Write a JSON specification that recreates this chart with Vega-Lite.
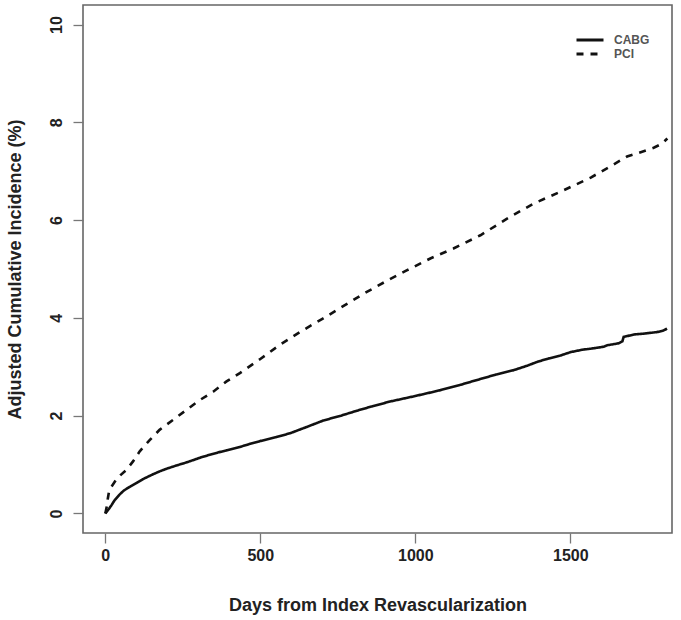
{
  "$schema": "https://vega.github.io/schema/vega-lite/v6.json",
  "width": 589,
  "height": 528,
  "autosize": "none",
  "padding": {"left": 83, "top": 5, "right": 9, "bottom": 87},
  "background": "white",
  "config": {
    "view": {"stroke": "#666666", "strokeWidth": 1.6},
    "font": "Liberation Sans"
  },
  "data": {
    "values": [
      {"g": "CABG", "day": 0, "v": 0},
      {"g": "CABG", "day": 10, "v": 0.08},
      {"g": "CABG", "day": 20, "v": 0.17},
      {"g": "CABG", "day": 30, "v": 0.27},
      {"g": "CABG", "day": 45, "v": 0.38},
      {"g": "CABG", "day": 60, "v": 0.47},
      {"g": "CABG", "day": 80, "v": 0.55},
      {"g": "CABG", "day": 100, "v": 0.62},
      {"g": "CABG", "day": 121, "v": 0.70},
      {"g": "CABG", "day": 150, "v": 0.79},
      {"g": "CABG", "day": 175, "v": 0.86},
      {"g": "CABG", "day": 200, "v": 0.92},
      {"g": "CABG", "day": 229, "v": 0.98},
      {"g": "CABG", "day": 260, "v": 1.04},
      {"g": "CABG", "day": 283, "v": 1.09},
      {"g": "CABG", "day": 310, "v": 1.15},
      {"g": "CABG", "day": 337, "v": 1.20},
      {"g": "CABG", "day": 365, "v": 1.25},
      {"g": "CABG", "day": 391, "v": 1.29},
      {"g": "CABG", "day": 434, "v": 1.36},
      {"g": "CABG", "day": 460, "v": 1.41},
      {"g": "CABG", "day": 499, "v": 1.48},
      {"g": "CABG", "day": 550, "v": 1.56},
      {"g": "CABG", "day": 596, "v": 1.64},
      {"g": "CABG", "day": 650, "v": 1.77},
      {"g": "CABG", "day": 703, "v": 1.90},
      {"g": "CABG", "day": 760, "v": 2.00},
      {"g": "CABG", "day": 811, "v": 2.10},
      {"g": "CABG", "day": 860, "v": 2.19},
      {"g": "CABG", "day": 919, "v": 2.29},
      {"g": "CABG", "day": 970, "v": 2.36},
      {"g": "CABG", "day": 1026, "v": 2.44},
      {"g": "CABG", "day": 1080, "v": 2.52},
      {"g": "CABG", "day": 1145, "v": 2.63},
      {"g": "CABG", "day": 1210, "v": 2.75},
      {"g": "CABG", "day": 1260, "v": 2.84},
      {"g": "CABG", "day": 1317, "v": 2.93},
      {"g": "CABG", "day": 1360, "v": 3.02},
      {"g": "CABG", "day": 1393, "v": 3.10},
      {"g": "CABG", "day": 1430, "v": 3.17},
      {"g": "CABG", "day": 1468, "v": 3.23},
      {"g": "CABG", "day": 1501, "v": 3.30},
      {"g": "CABG", "day": 1540, "v": 3.35},
      {"g": "CABG", "day": 1566, "v": 3.37},
      {"g": "CABG", "day": 1608, "v": 3.41},
      {"g": "CABG", "day": 1619, "v": 3.44},
      {"g": "CABG", "day": 1656, "v": 3.48},
      {"g": "CABG", "day": 1668, "v": 3.52},
      {"g": "CABG", "day": 1672, "v": 3.61},
      {"g": "CABG", "day": 1705, "v": 3.66},
      {"g": "CABG", "day": 1740, "v": 3.68},
      {"g": "CABG", "day": 1780, "v": 3.71},
      {"g": "CABG", "day": 1800, "v": 3.74},
      {"g": "CABG", "day": 1812, "v": 3.78},
      {"g": "PCI", "day": 0, "v": 0},
      {"g": "PCI", "day": 5, "v": 0.15},
      {"g": "PCI", "day": 8, "v": 0.30},
      {"g": "PCI", "day": 12, "v": 0.45},
      {"g": "PCI", "day": 20, "v": 0.55},
      {"g": "PCI", "day": 35, "v": 0.69},
      {"g": "PCI", "day": 50, "v": 0.79},
      {"g": "PCI", "day": 68, "v": 0.89},
      {"g": "PCI", "day": 90, "v": 1.07},
      {"g": "PCI", "day": 111, "v": 1.27},
      {"g": "PCI", "day": 143, "v": 1.50},
      {"g": "PCI", "day": 175, "v": 1.71},
      {"g": "PCI", "day": 218, "v": 1.91},
      {"g": "PCI", "day": 262, "v": 2.12},
      {"g": "PCI", "day": 305, "v": 2.32},
      {"g": "PCI", "day": 348, "v": 2.49},
      {"g": "PCI", "day": 391, "v": 2.70},
      {"g": "PCI", "day": 434, "v": 2.87},
      {"g": "PCI", "day": 500, "v": 3.16},
      {"g": "PCI", "day": 563, "v": 3.45},
      {"g": "PCI", "day": 630, "v": 3.72},
      {"g": "PCI", "day": 703, "v": 3.99},
      {"g": "PCI", "day": 770, "v": 4.25},
      {"g": "PCI", "day": 832, "v": 4.49},
      {"g": "PCI", "day": 900, "v": 4.73},
      {"g": "PCI", "day": 972, "v": 4.97},
      {"g": "PCI", "day": 1050, "v": 5.22},
      {"g": "PCI", "day": 1123, "v": 5.42},
      {"g": "PCI", "day": 1210, "v": 5.69},
      {"g": "PCI", "day": 1296, "v": 6.03},
      {"g": "PCI", "day": 1382, "v": 6.34},
      {"g": "PCI", "day": 1468, "v": 6.58},
      {"g": "PCI", "day": 1566, "v": 6.87},
      {"g": "PCI", "day": 1640, "v": 7.14},
      {"g": "PCI", "day": 1683, "v": 7.30},
      {"g": "PCI", "day": 1727, "v": 7.39},
      {"g": "PCI", "day": 1769, "v": 7.48},
      {"g": "PCI", "day": 1795, "v": 7.56},
      {"g": "PCI", "day": 1813, "v": 7.67}
    ]
  },
  "mark": {"type": "line", "strokeWidth": 2.6, "color": "#111111", "strokeCap": "butt"},
  "encoding": {
    "x": {
      "field": "day",
      "type": "quantitative",
      "scale": {"domain": [-72, 1828], "nice": false, "zero": false},
      "axis": {
        "values": [0, 500, 1000, 1500],
        "format": "d",
        "title": "Days from Index Revascularization",
        "grid": false,
        "domain": false,
        "tickSize": 10,
        "tickColor": "#777777",
        "tickWidth": 1.3,
        "labelFont": "Liberation Sans",
        "labelFontWeight": "bold",
        "labelFontSize": 16,
        "labelColor": "#222222",
        "labelPadding": 4,
        "titleFont": "Liberation Sans",
        "titleFontWeight": "bold",
        "titleFontSize": 18,
        "titleColor": "#222222",
        "titlePadding": 33
      }
    },
    "y": {
      "field": "v",
      "type": "quantitative",
      "scale": {"domain": [-0.4, 10.4], "nice": false, "zero": false},
      "axis": {
        "values": [0, 2, 4, 6, 8, 10],
        "title": "Adjusted Cumulative Incidence (%)",
        "grid": false,
        "domain": false,
        "tickSize": 10,
        "tickColor": "#777777",
        "tickWidth": 1.3,
        "labelAngle": -90,
        "labelAlign": "center",
        "labelBaseline": "bottom",
        "labelFont": "Liberation Sans",
        "labelFontWeight": "bold",
        "labelFontSize": 16,
        "labelColor": "#222222",
        "labelPadding": 9,
        "titleFont": "Liberation Sans",
        "titleFontWeight": "bold",
        "titleFontSize": 18,
        "titleColor": "#222222",
        "titlePadding": 24
      }
    },
    "strokeDash": {
      "field": "g",
      "type": "nominal",
      "scale": {"domain": ["CABG", "PCI"], "range": [[1, 0], [7, 7]]},
      "legend": {
        "title": null,
        "orient": "none",
        "legendX": 492,
        "legendY": 28,
        "padding": 0,
        "symbolType": "stroke",
        "symbolSize": 729,
        "symbolStrokeWidth": 3,
        "symbolStrokeColor": "#111111",
        "clipHeight": 14,
        "rowPadding": 0,
        "labelOffset": 9,
        "labelFont": "Liberation Sans",
        "labelFontWeight": "bold",
        "labelFontSize": 12,
        "labelColor": "#555555"
      }
    }
  }
}
